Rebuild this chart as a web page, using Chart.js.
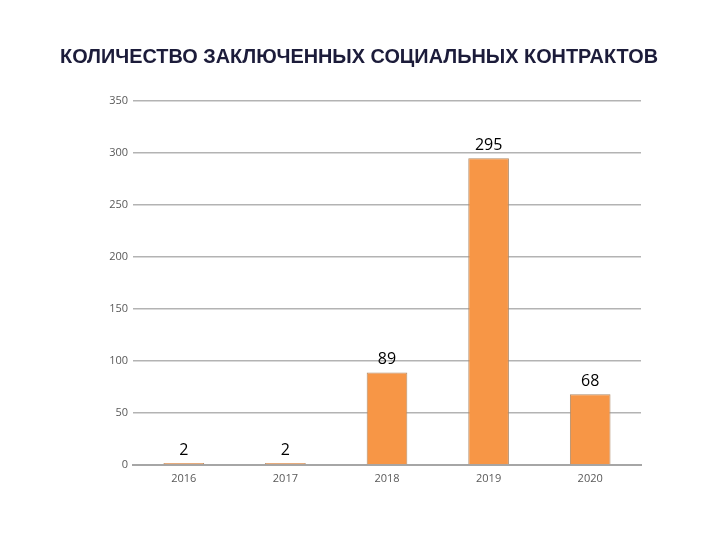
<!DOCTYPE html>
<html>
<head>
<meta charset="utf-8">
<script src="https://cdn.jsdelivr.net/npm/chart.js@4"></script>
<style>
html,body{margin:0;padding:0;background:#fff;}
#wrap{width:720px;height:540px;position:relative;}
</style>
</head>
<body>
<div id="wrap"><canvas id="c" width="720" height="540"></canvas></div>
<script>
const chartTitle = "КОЛИЧЕСТВО ЗАКЛЮЧЕННЫХ СОЦИАЛЬНЫХ КОНТРАКТОВ";
const categories = ["2016", "2017", "2018", "2019", "2020"];
const contracts = [2, 2, 89, 295, 68];
const yMax = 350;
const yStep = 50;

const titlePlugin = {
  id: 'titleDraw',
  afterDraw(chart) {
    const ctx = chart.ctx;
    ctx.save();
    ctx.font = 'bold 21px "Liberation Sans", Arial, sans-serif';
    ctx.fillStyle = '#1c1c3a';
    ctx.textAlign = 'center';
    ctx.textBaseline = 'middle';
    const w = ctx.measureText(chartTitle).width;
    const sx = 598 / w;
    ctx.translate(359, 57);
    ctx.scale(sx, 1);
    ctx.fillText(chartTitle, 0, 0);
    ctx.restore();
  }
};

const labelPlugin = {
  id: 'valueLabels',
  afterDatasetsDraw(chart) {
    const ctx = chart.ctx;
    const meta = chart.getDatasetMeta(0);
    ctx.save();
    ctx.font = '16px "Open Sans", "DejaVu Sans", sans-serif';
    ctx.fillStyle = '#000';
    ctx.textAlign = 'center';
    ctx.textBaseline = 'alphabetic';
    meta.data.forEach((bar, i) => {
      const v = chart.data.datasets[0].data[i];
      ctx.fillText(String(v), bar.x, bar.y - 8);
    });
    ctx.restore();
  }
};

new Chart(document.getElementById('c'), {
  type: 'bar',
  data: {
    labels: categories,
    datasets: [{
      data: contracts,
      backgroundColor: '#F79646',
      borderColor: '#b08a68',
      borderWidth: 1,
      borderSkipped: 'bottom',
      barPercentage: 0.8,
      categoryPercentage: 0.5
    }]
  },
  options: {
    responsive: false,
    animation: false,
    layout: { padding: { left: 0, right: 79, top: 101, bottom: 45 } },
    plugins: { legend: { display: false }, tooltip: { enabled: false }, title: { display: false } },
    scales: {
      x: {
        grid: { display: false, drawTicks: false },
        border: { display: true, color: '#a6a6a6', width: 2 },
        ticks: { color: '#595959', font: { size: 11, family: '"Open Sans", "DejaVu Sans", sans-serif' }, padding: 7 },
        afterFit(s) { s.height = 30; }
      },
      y: {
        min: 0, max: yMax,
        grid: { color: '#b3b3b3', lineWidth: 1.5, drawTicks: false },
        border: { display: false },
        ticks: { stepSize: yStep, color: '#595959', font: { size: 11, family: '"Open Sans", "DejaVu Sans", sans-serif' }, padding: 5 },
        afterFit(s) { s.width = 133; }
      }
    }
  },
  plugins: [titlePlugin, labelPlugin]
});
</script>
</body>
</html>
